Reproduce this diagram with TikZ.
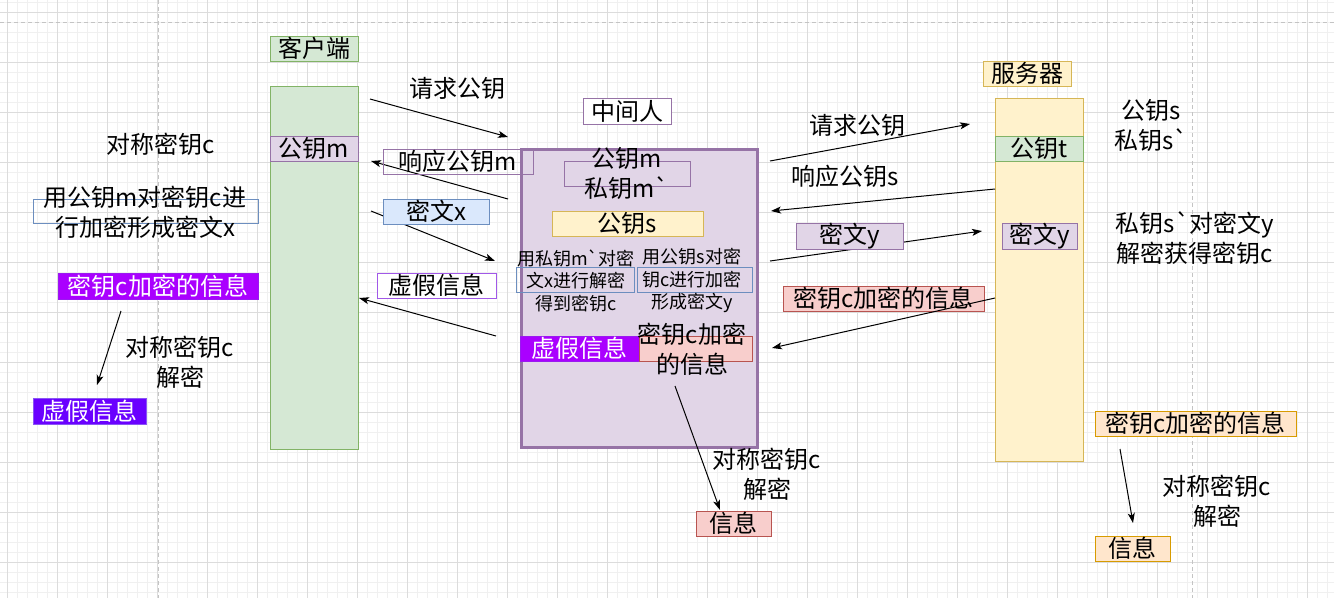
\documentclass[tikz,border=0pt]{standalone}
\usepackage{fontspec}
\setmainfont{Noto Sans CJK SC}[Ligatures=TeXOff]
\usetikzlibrary{arrows.meta}

\definecolor{greenfill}{HTML}{D5E8D4}
\definecolor{greenline}{HTML}{82B366}
\definecolor{purplefill}{HTML}{E1D5E7}
\definecolor{purpleline}{HTML}{9673A6}
\definecolor{bluefill}{HTML}{DAE8FC}
\definecolor{blueline}{HTML}{6C8EBF}
\definecolor{yellowfill}{HTML}{FFF2CC}
\definecolor{yellowline}{HTML}{D6B656}
\definecolor{redfill}{HTML}{F8CECC}
\definecolor{redline}{HTML}{B85450}
\definecolor{orangefill}{HTML}{FFE6CC}
\definecolor{orangeline}{HTML}{D79B00}
\definecolor{violetfill}{HTML}{AA00FF}
\definecolor{violetline}{HTML}{9A1AF0}
\definecolor{indigofill}{HTML}{6A00FF}
\definecolor{indigoline}{HTML}{8A55F5}
\definecolor{fakeline}{HTML}{A158E8}
\definecolor{gridminor}{HTML}{F0F0F0}
\definecolor{gridmajor}{HTML}{DCDCDC}
\definecolor{gridpage}{HTML}{C4C4C4}

\newcommand\mainsize{\fontsize{24}{30}\selectfont}
\newcommand\subsize{\fontsize{18}{22.5}\selectfont}

\begin{document}
\begin{tikzpicture}[x=1pt, y=-1pt,
  box/.style={draw, line width=1pt, inner sep=0pt, minimum height=25pt, font=\mainsize},
  greenbox/.style={box, fill=greenfill, draw=greenline},
  purplebox/.style={box, fill=purplefill, draw=purpleline},
  bluebox/.style={box, fill=bluefill, draw=blueline},
  yellowbox/.style={box, fill=yellowfill, draw=yellowline},
  redbox/.style={box, fill=redfill, draw=redline},
  orangebox/.style={box, fill=orangefill, draw=orangeline},
  violetbox/.style={box, fill=violetfill, draw=violetline, text=white},
  indigobox/.style={box, fill=indigofill, draw=indigoline, text=white},
  framebox/.style={box, draw=#1},
  txt/.style={inner sep=0pt, font=\mainsize, align=center},
  subtxt/.style={inner sep=0pt, font=\subsize, align=center},
  flow/.style={draw, line width=1pt, -{Stealth[length=10pt, width=7pt, inset=2.5pt]}},
  minorgrid/.style={draw=gridminor, line width=0.8pt},
  majorgrid/.style={draw=gridmajor, line width=0.8pt},
  pageline/.style={draw=gridpage, line width=1pt, dash pattern=on 4pt off 3pt}
]
\useasboundingbox (0,0) rectangle (1334,598);
\fill[white] (0,0) rectangle (1334,598);

% grid
\foreach \gx in {7,17,...,1327} \draw[minorgrid] (\gx,0) -- (\gx,598);
\foreach \gy in {2,12,...,592} \draw[minorgrid] (0,\gy) -- (1334,\gy);
\foreach \gx in {7,57,...,1307} \draw[majorgrid] (\gx,0) -- (\gx,598);
\foreach \gy in {12,62,...,562} \draw[majorgrid] (0,\gy) -- (1334,\gy);
\draw[pageline] (0,22) -- (1334,22);
\draw[pageline] (158,0) -- (158,598);
\draw[pageline] (1192,0) -- (1192,598);

% client
\node[greenbox, minimum width=88pt] (clientlbl) at (314,48.5) {客户端};
\node[greenbox, minimum width=88pt, minimum height=363pt] (clientbar) at (314,267.5) {};
\node[purplebox, minimum width=88pt] (clientkey) at (314,148.5) {公钥m};

% server
\node[yellowbox, minimum width=88pt] (serverlbl) at (1027,73.5) {服务器};
\node[yellowbox, minimum width=88pt, minimum height=363pt] (serverbar) at (1039,279.5) {};
\node[greenbox, minimum width=88pt] (serverkey) at (1039,148.5) {公钥t};
\node[purplebox, minimum width=75pt] (servercipher) at (1039.5,236.5) {密文y};

% man in the middle
\node[framebox=purpleline, fill=white, minimum width=88pt, minimum height=26pt] (mitmlbl) at (627,111) {中间人};
\node[purplebox, line width=3pt, minimum width=236pt, minimum height=298pt] (mitmbar) at (639,298.5) {};
\node[framebox=purpleline, minimum width=126pt] (mitmkeybox) at (627,173.5) {};
\node[txt] (mitmkeys) at (627,173) {公钥m\\私钥m`};
\node[yellowbox, minimum width=151pt] (mitmpub) at (627.5,223.5) {公钥s};
\node[framebox=blueline, minimum width=118pt] (decbox) at (575,279.5) {};
\node[subtxt] (dectxt) at (576,280.5) {用私钥m`对密\\文x进行解密\\得到密钥c};
\node[framebox=blueline, minimum width=115pt] (encbox) at (694.5,279.5) {};
\node[subtxt] (enctxt) at (692,280.5) {用公钥s对密\\钥c进行加密\\形成密文y};
\node[violetbox, minimum width=119pt] (mitmfake) at (579.5,348.5) {虚假信息};
\node[redbox, minimum width=113pt] (mitmmsgbox) at (695.5,348.5) {};
\node[txt] (mitmmsg) at (692,349) {密钥c加密\\的信息};
\node[txt] (mitmsym) at (767,474.5) {对称密钥c\\解密};
\node[redbox, minimum width=75pt] (mitmplain) at (733.5,523.5) {信息};

% client side notes
\node[txt] (clientsym) at (161,144) {对称密钥c};
\node[framebox=blueline, minimum width=225pt, minimum height=24pt] (clientencbox) at (145.5,211) {};
\node[txt] (clientenc) at (145,212.5) {用公钥m对密钥c进\\行加密形成密文x};
\node[violetbox, minimum width=200pt, minimum height=26pt] (clientmsg) at (158,286) {密钥c加密的信息};
\node[txt] (clientdec) at (180,362.5) {对称密钥c\\解密};
\node[indigobox, minimum width=113pt, minimum height=26pt] (clientfake) at (89.5,411) {虚假信息};

% server side notes
\node[txt] (serverkeys) at (1151.5,125) {公钥s\\私钥s`};
\node[txt] (serverdec) at (1195,238) {私钥s`对密文y\\解密获得密钥c};
\node[orangebox, minimum width=201pt] (servermsg) at (1195.5,423.5) {密钥c加密的信息};
\node[txt] (serversym) at (1217,501) {对称密钥c\\解密};
\node[orangebox, minimum width=75pt] (serverplain) at (1132.5,548.5) {信息};

% arrow ends
\coordinate (reqAs) at (370,99);   \coordinate (reqAe) at (508,137);
\coordinate (respAs) at (508,199); \coordinate (respAe) at (371,161);
\coordinate (ciphAs) at (371,211); \coordinate (ciphAe) at (495,261);
\coordinate (fakeAs) at (496,336); \coordinate (fakeAe) at (359,298);
\coordinate (reqBs) at (770,161);  \coordinate (reqBe) at (970,124);
\coordinate (respBs) at (995,189); \coordinate (respBe) at (771,211);
\coordinate (ciphBs) at (770,261); \coordinate (ciphBe) at (982,231);
\coordinate (msgBs) at (995,298);  \coordinate (msgBe) at (772,348);
\coordinate (decLs) at (121,311);  \coordinate (decLe) at (97,385);
\coordinate (decMs) at (675,386);  \coordinate (decMe) at (720,510);
\coordinate (decRs) at (1120,449); \coordinate (decRe) at (1133,523);

% arrows
\draw[flow] (reqAs) -- (reqAe);
\draw[flow] (respAs) -- (respAe);
\draw[flow] (ciphAs) -- (ciphAe);
\draw[flow] (fakeAs) -- (fakeAe);
\draw[flow] (reqBs) -- (reqBe);
\draw[flow] (respBs) -- (respBe);
\draw[flow] (ciphBs) -- (ciphBe);
\draw[flow] (decLs) -- (decLe);
\draw[flow] (decMs) -- (decMe);
\draw[flow] (decRs) -- (decRe);

% arrow labels
\node[txt] (reqA) at (457,88) {请求公钥};
\node[framebox=purpleline, minimum width=150pt] (respA) at (458,161.5) {响应公钥m};
\node[bluebox, minimum width=106pt] (ciphA) at (436,211.5) {密文x};
\node[framebox=fakeline, fill=white, minimum width=119pt] (fakeA) at (436.5,285.5) {虚假信息};
\node[txt] (reqB) at (857,125) {请求公钥};
\node[txt] (respB) at (845,176) {响应公钥s};
\node[purplebox, minimum width=107pt] (ciphB) at (849.5,236.5) {密文y};
\node[redbox, minimum width=201pt] (msgB) at (883.5,298.5) {密钥c加密的信息};
\draw[flow] (msgBs) -- (msgBe);
\end{tikzpicture}
\end{document}
